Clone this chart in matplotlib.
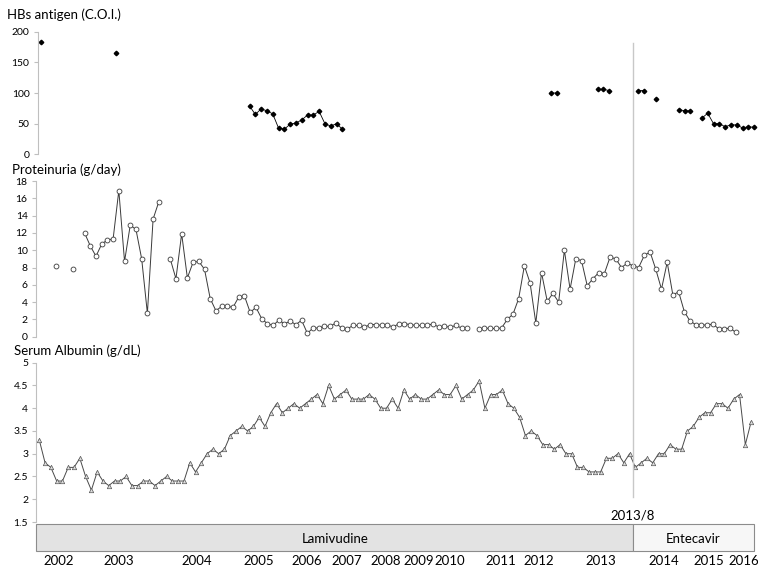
import matplotlib
matplotlib.use("Agg")
import matplotlib.pyplot as plt
import numpy as np
from matplotlib.lines import Line2D
from matplotlib.patches import Rectangle
from matplotlib.transforms import blended_transform_factory

nan = np.nan

# HBs antigen (C.O.I.) - only measured at some visits (visit index, value)
hbs_visit = [0, 13,
             36, 37, 38, 39, 40, 41, 42, 43, 44, 45, 46, 47, 48, 49, 50, 51, 52,
             88, 89, 96, 97, 98, 103, 104, 106, 110, 111, 112,
             114, 115, 116, 117, 118, 119, 120, 121, 122, 123]
hbs_value = [184, 166,
             79, 65, 74, 71, 66, 43, 41, 49, 51, 56, 64, 64, 70, 50, 46, 50, 41,
             100, 100, 106, 106, 104, 104, 104, 91, 73, 71, 71,
             59, 67, 50, 50, 45, 48, 48, 43, 45, 44]

# proteinuria (g/day), one entry per visit, nan = missing
proteinuria = [nan, nan, nan, 8.2, nan, nan, 7.8, nan,
               12.0, 10.5, 9.3, 10.7, 11.2, 11.3, 16.9, 8.7, 12.9, 12.4, 9.0, 2.7, 13.6, 15.6,
               nan,
               9.0, 6.7, 11.9, 6.8, 8.6, 8.7, 7.8, 4.4, 3.0, 3.5, 3.5, 3.4, 4.6, 4.7, 2.8, 3.4,
               2.1, 1.5, 1.3, 1.9, 1.5, 1.8, 1.4, 1.9, 0.4, 1.0, 1.0, 1.2, 1.2, 1.6, 1.0, 0.9,
               1.3, 1.3, 1.1, 1.4, 1.4, 1.3, 1.4, 1.1, 1.5, 1.5, 1.4, 1.3, 1.3, 1.3, 1.5, 1.1,
               1.2, 1.1, 1.3, 1.0, 1.0,
               nan,
               0.85, 1.0, 0.95, 0.95, 1.0, 2.0, 2.6, 4.4, 8.2, 6.2, 1.6, 7.4, 4.1, 5.0, 4.0,
               10.0, 5.5, 9.0, 8.8, 5.9, 6.7, 7.4, 7.3, 9.2, 9.0, 8.0, 8.5, 8.2, 8.0, 9.4, 9.8,
               7.8, 5.5, 8.6, 4.8, 5.2, 2.9, 1.8, 1.4, 1.4, 1.3, 1.5, 0.9, 0.9, 1.0, 0.5]

# serum albumin (g/dL), every visit
albumin = [3.3, 2.8, 2.7, 2.4, 2.4, 2.7, 2.7, 2.9, 2.5, 2.2, 2.6, 2.4, 2.3, 2.4, 2.4, 2.5,
           2.3, 2.3, 2.4, 2.4, 2.3, 2.4, 2.5, 2.4, 2.4, 2.4, 2.8, 2.6, 2.8, 3.0, 3.1, 3.0,
           3.1, 3.4, 3.5, 3.6, 3.5, 3.6, 3.8,
           3.6, 3.9, 4.1, 3.9, 4.0, 4.1, 4.0, 4.1, 4.2, 4.3, 4.1, 4.5, 4.2, 4.3, 4.4, 4.2,
           4.2, 4.2, 4.3, 4.2, 4.0, 4.0, 4.2, 4.0, 4.4, 4.2, 4.3, 4.2, 4.2, 4.3, 4.4, 4.3,
           4.3, 4.5, 4.2, 4.3, 4.4, 4.6, 4.0, 4.3, 4.3, 4.4, 4.1,
           4.0, 3.8, 3.4, 3.5, 3.4, 3.2, 3.2, 3.1, 3.2, 3.0, 3.0, 2.7, 2.7, 2.6, 2.6, 2.6,
           2.9, 2.9, 3.0, 2.8, 3.0, 2.7, 2.8, 2.9, 2.8, 3.0, 3.0, 3.2, 3.1, 3.1, 3.5, 3.6,
           3.8, 3.9, 3.9, 4.1, 4.1, 4.0, 4.2, 4.3, 3.2, 3.7]

# first visit of each year (visit index) for the labels under the chart
years = ["2002", "2003", "2004", "2005", "2006", "2007", "2008", "2009", "2010",
         "2011", "2012", "2013", "2014", "2015", "2016"]
year_visit = [3.3, 13.7, 27.2, 37.9, 46.3, 53.2, 59.8, 65.5, 71.0,
              79.7, 86.3, 97.0, 107.9, 115.7, 121.7]

drugs = ["Lamivudine", "Entecavir"]
switch_visit = 102.6
switch_label = "2013/8"

plt.rcParams['font.family'] = ['Lato', 'DejaVu Sans']

W, H = 758, 566
fig = plt.figure(figsize=(W / 100, H / 100), dpi=100)


def px_axes(x0, y0, x1, y1):
    # axes placed by pixel box (top-left origin)
    return fig.add_axes([x0 / W, 1 - y1 / H, (x1 - x0) / W, (y1 - y0) / H])


def style(ax):
    for s in ['top', 'right', 'bottom']:
        ax.spines[s].set_visible(False)
    ax.spines['left'].set_color('#bfbfbf')
    ax.spines['left'].set_linewidth(0.8)
    ax.tick_params(axis='y', direction='out', length=3, width=0.8, color='#bfbfbf',
                   labelsize=7.5, pad=3)
    ax.set_xticks([])
    ax.set_xlim(-0.5, 123.5)
    ax.patch.set_alpha(0)


n = len(albumin)
visits = np.arange(n)

ax1 = px_axes(37.8, 31.7, 757.0, 154.3)
style(ax1)
hbs = np.full(n, nan)
hbs[hbs_visit] = hbs_value
ax1.plot(visits, hbs, color='black', lw=0.6, marker='D', ms=2.3,
         mfc='black', mec='black', clip_on=False)
ax1.set_ylim(0, 200)
ax1.set_yticks(np.arange(0, 201, 50))

ax2 = px_axes(36.0, 181.0, 744.3, 336.7)
style(ax2)
ax2.plot(np.arange(len(proteinuria)), proteinuria, color='#3a3a3a', lw=0.7, marker='o',
         ms=3.5, mfc='white', mec='#3a3a3a', mew=0.6, clip_on=False)
ax2.set_ylim(0, 18)
ax2.set_yticks(np.arange(0, 19, 2))

ax3 = px_axes(36.4, 362.7, 754.0, 522.0)
style(ax3)
ax3.plot(visits, albumin, color='#4a4a4a', lw=0.7, marker='^', ms=3.2,
         mfc='#dcdcdc', mec='#555555', mew=0.5, clip_on=False)
ax3.set_ylim(1.5, 5)
ax3.set_yticks(np.arange(1.5, 5.01, 0.5))
ax3.set_yticklabels(['1.5', '2', '2.5', '3', '3.5', '4', '4.5', '5'])

fig.text(7 / W, 1 - 15 / H, "HBs antigen (C.O.I.)", fontsize=9.5, va='center')
fig.text(12 / W, 1 - 170 / H, "Proteinuria (g/day)", fontsize=9.5, va='center')
fig.text(14 / W, 1 - 351 / H, "Serum Albumin (g/dL)", fontsize=9.5, va='center')

# treatment bar
axd = px_axes(36.4, 524.0, 754.0, 550.7)
axd.set_xlim(-0.5, 123.5)
axd.set_ylim(0, 1)
for s in axd.spines.values():
    s.set_visible(False)
axd.set_yticks([])
lo, hi = axd.get_xlim()
axd.add_patch(Rectangle((lo, 0), switch_visit - lo, 1, facecolor='#e3e3e3',
                        edgecolor='#8c8c8c', lw=0.8, clip_on=False))
axd.add_patch(Rectangle((switch_visit, 0), hi - switch_visit, 1, facecolor='#f7f7f7',
                        edgecolor='#8c8c8c', lw=0.8, clip_on=False))
axd.text((lo + switch_visit) / 2, 0.45, drugs[0], ha='center', va='center', fontsize=9.5)
axd.text((switch_visit + hi) / 2, 0.45, drugs[1], ha='center', va='center', fontsize=9.5)
axd.set_xticks(year_visit)
axd.set_xticklabels(years)
axd.tick_params(axis='x', length=0, pad=3, labelsize=9.5)

# switch date line across the three panels
tr = blended_transform_factory(ax3.transData, fig.transFigure)
fig.add_artist(Line2D([switch_visit, switch_visit], [1 - 42.7 / H, 1 - 496.7 / H],
                      transform=tr, color='#c8c8c8', lw=1))
fig.text(switch_visit, 1 - 515 / H, switch_label, transform=tr, ha='center',
         va='center', fontsize=9.5)

fig.savefig("out.png", dpi=100)
